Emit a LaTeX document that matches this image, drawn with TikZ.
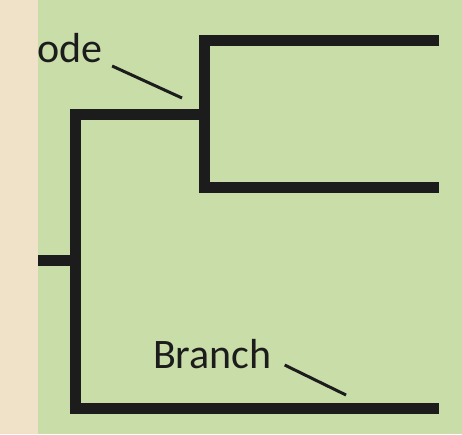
\documentclass[tikz,border=0pt]{standalone}
\usepackage{fontspec}
\setmainfont{Carlito}
\definecolor{leafgreen}{RGB}{201,221,168}
\definecolor{paper}{RGB}{240,226,200}
\definecolor{ink}{RGB}{28,28,28}
\begin{document}
\begin{tikzpicture}[
        x=1pt, y=-1pt,
        branch/.style={draw=ink, line width=11pt, line cap=butt, line join=miter},
        leader/.style={draw=ink, line width=3pt},
        lbl/.style={inner sep=0pt, outer sep=0pt, text=ink,
            font=\fontsize{42}{50}\selectfont}
    ]
        \useasboundingbox (0, 0) rectangle (462, 434);
        \fill[leafgreen] (0, 0) rectangle (462, 434);
        % tree points
        \coordinate (root) at (38, 260);
        \coordinate (outer) at (75, 260);
        \coordinate (split) at (204, 114);
        \coordinate (leafA) at (439, 40);
        \coordinate (leafB) at (439, 187);
        \coordinate (leafC) at (439, 408);
        \draw[branch] (root) -- (outer);
        \draw[branch] (split) -- (75, 114) |- (leafC);
        \draw[branch] (leafA) -| (split) |- (leafB);
        % labels
        \node[lbl, anchor=base west] (nodelabel) at (37, 62) {ode};
        \node[lbl, anchor=base west] (branchlabel) at (153, 368) {Branch};
        \coordinate (nodetip) at (182, 98);
        \coordinate (branchtip) at (346, 395);
        \draw[leader] ([xshift=10pt, yshift=-4pt]nodelabel.base east) -- (nodetip);
        \draw[leader] ([xshift=13pt, yshift=3pt]branchlabel.base east) -- (branchtip);
        \fill[paper] (0, 0) rectangle (38, 434);
    \end{tikzpicture}
\end{document}
